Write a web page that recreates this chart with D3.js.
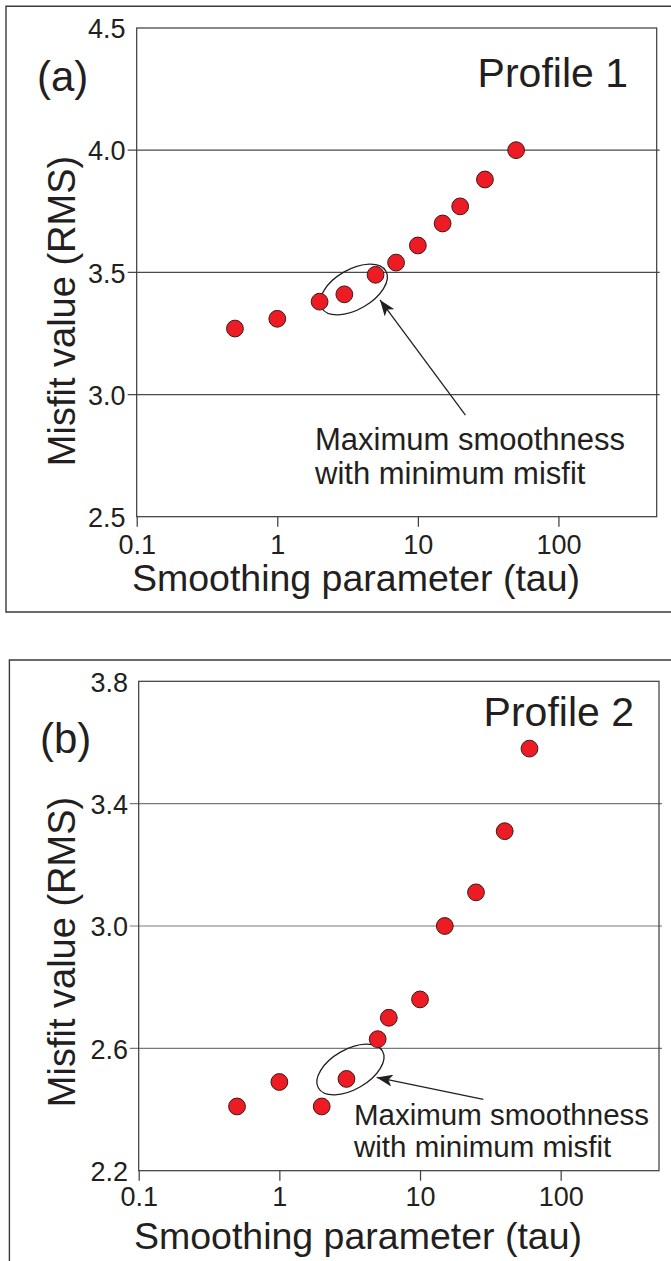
<!DOCTYPE html>
<html>
<head>
<meta charset="utf-8">
<script src="https://cdn.jsdelivr.net/npm/d3@7"></script>
<style>
  html, body { margin: 0; padding: 0; background: #fff; }
  svg { display: block; font-family: "Liberation Sans", Arial, Helvetica, sans-serif; }
</style>
</head>
<body>
<script>
// Misfit (RMS) versus smoothing parameter tau for two profiles
const tauA = [0.5, 1, 2, 3, 5, 7, 10, 15, 20, 30, 50];
const rmsA = [3.27, 3.31, 3.38, 3.41, 3.49, 3.54, 3.61, 3.70, 3.77, 3.88, 4.00];

const tauB = [0.5, 1, 2, 3, 5, 6, 10, 15, 25, 40, 60];
const rmsB = [2.41, 2.49, 2.41, 2.50, 2.63, 2.70, 2.76, 3.00, 3.11, 3.31, 3.58];

const xTicks = [0.1, 1, 10, 100];
const xTickLabels = ["0.1", "1", "10", "100"];
const yTicksA = [2.5, 3.0, 3.5, 4.0, 4.5];
const yTicksB = [2.2, 2.6, 3.0, 3.4, 3.8];

const W = 671, H = 1261;
const ink = "#231f20";
const red = "#ed1c24";

const svg = d3.select("body").append("svg")
  .attr("width", W).attr("height", H);

// arrowhead marker
svg.append("defs").append("marker")
  .attr("id", "arrowhead")
  .attr("viewBox", "0 0 16 12")
  .attr("refX", 16).attr("refY", 6)
  .attr("markerWidth", 16).attr("markerHeight", 12)
  .attr("markerUnits", "userSpaceOnUse")
  .attr("orient", "auto")
  .append("path")
  .attr("d", "M0,0 L16,6 L0,12 L4,6 Z")
  .attr("fill", ink);

function drawPanel(opt) {
  const g = svg.append("g");

  // outer frame (open on the right)
  g.append("path")
    .attr("d", opt.frame)
    .attr("fill", "none").attr("stroke", "#3a3a3a").attr("stroke-width", 1.4);

  const x = d3.scaleLog().domain([0.1, 500]).range([opt.left, opt.right]);
  const y = d3.scaleLinear().domain(opt.yDomain).range([opt.bottom, opt.top]);

  // horizontal grid lines at inner ticks
  const inner = opt.yTicks.slice(1, -1);
  g.selectAll("line.grid").data(inner).join("line")
    .attr("class", "grid")
    .attr("x1", opt.left - 9).attr("x2", opt.right + 3)
    .attr("y1", d => y(d)).attr("y2", d => y(d))
    .attr("stroke", opt.gridColor).attr("stroke-width", 1.2);

  // plot box
  g.append("rect")
    .attr("x", opt.left).attr("y", opt.top)
    .attr("width", opt.right - opt.left).attr("height", opt.bottom - opt.top)
    .attr("fill", "none").attr("stroke", "#3a3a3a").attr("stroke-width", 1.2);

  // x axis ticks
  const xAxis = d3.axisBottom(x).tickValues(xTicks)
    .tickSize(10).tickSizeOuter(0).tickPadding(0)
    .tickFormat((d, i) => xTickLabels[i]);
  const xa = g.append("g").attr("transform", `translate(0,${opt.bottom})`).call(xAxis);
  xa.select(".domain").remove();
  xa.selectAll(".tick line").attr("stroke", "#3a3a3a").attr("stroke-width", 1.2);
  xa.selectAll(".tick text")
    .attr("y", opt.xLabelDy).attr("dy", 0)
    .attr("font-size", 27).attr("fill", ink);

  // y axis labels
  const yAxis = d3.axisLeft(y).tickValues(opt.yTicks)
    .tickSize(0).tickPadding(opt.left - opt.yLabelRight)
    .tickFormat(d3.format(".1f"));
  const ya = g.append("g").attr("transform", `translate(${opt.left},0)`).call(yAxis);
  ya.select(".domain").remove();
  ya.selectAll(".tick text").attr("font-size", 27).attr("fill", ink).attr("dy", "0.36em");

  // axis titles
  g.append("text")
    .attr("x", opt.xTitleX).attr("y", opt.xTitleY)
    .attr("text-anchor", "middle").attr("font-size", 37.5).attr("fill", ink)
    .text("Smoothing parameter (tau)");
  g.append("text")
    .attr("transform", `translate(${opt.yTitleX},${opt.yTitleY}) rotate(-90)`)
    .attr("text-anchor", "middle").attr("font-size", 38).attr("fill", ink)
    .text("Misfit value (RMS)");

  // panel letter and profile name
  g.append("text")
    .attr("x", opt.letterX).attr("y", opt.letterY)
    .attr("font-size", 42).attr("fill", ink).text(opt.letter);
  g.append("text")
    .attr("x", opt.nameX).attr("y", opt.nameY)
    .attr("text-anchor", "end").attr("font-size", 41).attr("fill", ink).text(opt.name);

  // annotation: ellipse, arrow and note
  const ex = x(opt.ellipse[0]), ey = y(opt.ellipse[1]);
  g.append("ellipse")
    .attr("transform", `translate(${ex},${ey}) rotate(-30)`)
    .attr("rx", 37).attr("ry", 20)
    .attr("fill", "none").attr("stroke", ink).attr("stroke-width", 1.3);

  g.append("line")
    .attr("x1", x(opt.arrowFrom[0])).attr("y1", y(opt.arrowFrom[1]))
    .attr("x2", x(opt.arrowTo[0])).attr("y2", y(opt.arrowTo[1]))
    .attr("stroke", ink).attr("stroke-width", 1.3)
    .attr("marker-end", "url(#arrowhead)");

  const note = g.append("text")
    .attr("font-size", opt.noteSize).attr("fill", ink);
  note.append("tspan").attr("x", opt.noteX).attr("y", opt.noteY).text("Maximum smoothness");
  note.append("tspan").attr("x", opt.noteX).attr("y", opt.noteY + opt.noteGap).text("with minimum misfit");

  // data points
  const pts = opt.tau.map((t, i) => ({ t, v: opt.rms[i] }));
  g.selectAll("circle.pt").data(pts).join("circle")
    .attr("class", "pt")
    .attr("cx", d => x(d.t)).attr("cy", d => y(d.v))
    .attr("r", 8.4)
    .attr("fill", red).attr("stroke", "#3a1a1a").attr("stroke-width", 1);
}

drawPanel({
  frame: "M680,6.3 H6 V612 H680",
  left: 136.7, right: 656.7, top: 28, bottom: 516.7,
  yDomain: [2.5, 4.5], yTicks: yTicksA, yLabelRight: 125.5,
  gridColor: "#4a4a4a",
  xLabelDy: 37,
  tau: tauA, rms: rmsA,
  xTitleX: 356, xTitleY: 591,
  yTitleX: 75, yTitleY: 311,
  letter: "(a)", letterX: 37, letterY: 91,
  name: "Profile 1", nameX: 628, nameY: 87,
  ellipse: [3.5, 3.43],
  arrowFrom: [21.8, 2.916], arrowTo: [5.38, 3.387],
  noteX: 315, noteY: 450, noteSize: 31, noteGap: 34
});

drawPanel({
  frame: "M680,660 H9.4 V1270",
  left: 138.7, right: 659, top: 681.3, bottom: 1170.7,
  yDomain: [2.2, 3.8], yTicks: yTicksB, yLabelRight: 128,
  gridColor: "#7a7a7a",
  xLabelDy: 35,
  tau: tauB, rms: rmsB,
  xTitleX: 358, xTitleY: 1249,
  yTitleX: 75, yTitleY: 952,
  letter: "(b)", letterX: 40, letterY: 753,
  name: "Profile 2", nameX: 634, nameY: 726,
  ellipse: [3.2, 2.531],
  arrowFrom: [28.2, 2.433], arrowTo: [4.92, 2.505],
  noteX: 354, noteY: 1125, noteSize: 29.5, noteGap: 32
});
</script>
</body>
</html>
